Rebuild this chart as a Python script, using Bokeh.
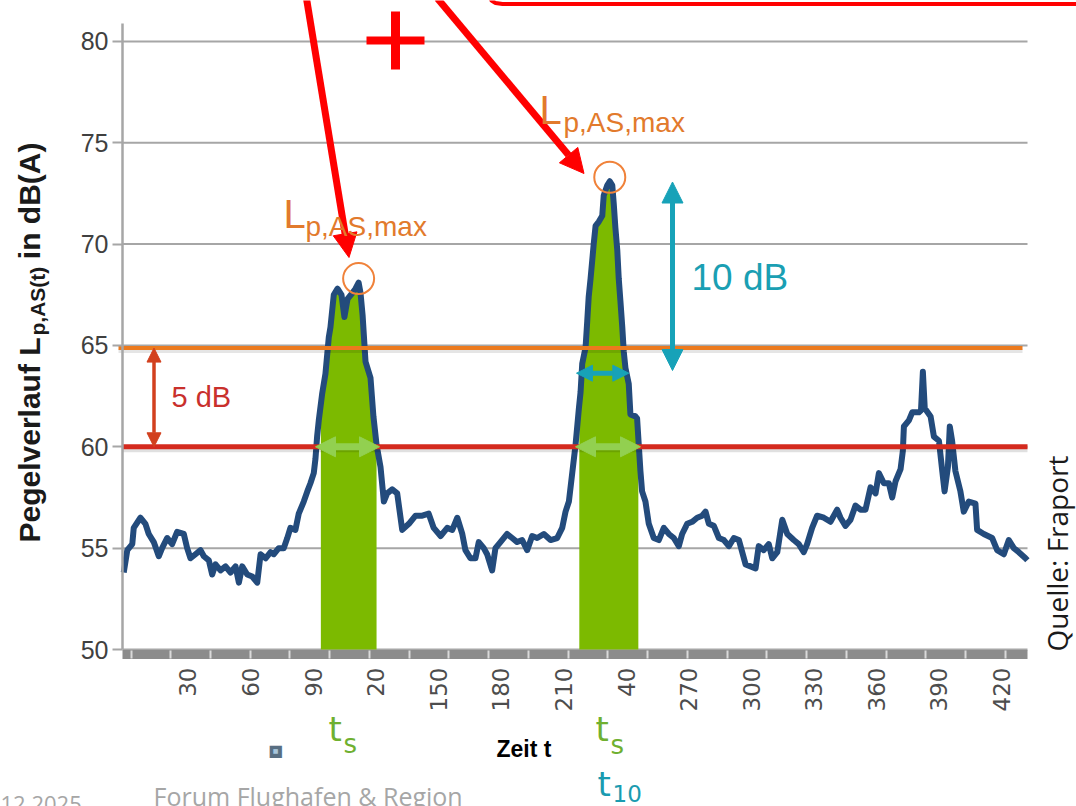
import numpy as np
from math import pi
from bokeh.plotting import figure
from bokeh.models import Range1d, FixedTicker, Label, Arrow, NormalHead
from bokeh.embed import file_html
from bokeh.resources import INLINE

# ---------------- data ----------------
t_sec = [
    -0.8, 0.9, 3.3, 4.0, 7.2, 9.6, 11.2, 13.6, 16.0, 17.6,
    20.0, 22.4, 24.8, 28.0, 29.6, 31.2, 33.6, 36.0, 37.6, 40.0,
    41.6, 43.2, 45.6, 48.0, 50.4, 52.8, 54.4, 56.0, 58.4, 60.8,
    63.2, 64.8, 67.2, 69.6, 71.1, 73.5, 75.9, 77.6, 79.1, 81.5,
    83.1, 85.5, 87.2, 88.7, 90.3, 91.1, 91.9, 92.7, 94.3, 95.9,
    97.5, 98.3, 99.9, 101.7, 103.6, 105.0, 106.5, 108.9, 110.3, 111.8,
    112.7, 113.7, 115.1, 117.5, 118.9, 120.4, 122.3, 123.9, 125.5, 127.9,
    130.3, 132.7, 135.9, 139.1, 142.3, 145.4, 147.8, 151.1, 154.3, 156.7,
    159.1, 161.5, 163.0, 165.4, 167.8, 169.4, 171.8, 173.4, 175.8, 177.4,
    179.8, 183.0, 185.4, 187.8, 190.2, 192.6, 195.0, 197.4, 200.6, 203.8,
    207.0, 209.4, 211.0, 212.6, 214.2, 215.8, 217.4, 218.2, 219.0, 220.6,
    221.4, 222.1, 223.0, 223.8, 224.5, 225.4, 226.9, 228.6, 229.3, 231.0,
    232.2, 233.4, 234.1, 234.9, 235.8, 236.5, 237.3, 238.2, 238.9, 239.7,
    241.3, 242.1, 244.5, 245.3, 246.1, 246.9, 247.7, 249.3, 250.9, 253.3,
    255.7, 258.1, 260.5, 262.9, 265.3, 266.9, 269.3, 271.7, 274.1, 276.5,
    278.1, 279.7, 282.1, 284.5, 286.9, 289.3, 291.7, 294.1, 297.3, 299.7,
    302.1, 303.6, 306.0, 308.4, 310.1, 312.5, 314.9, 317.3, 320.4, 322.8,
    325.2, 326.8, 329.2, 331.6, 334.8, 338.0, 341.2, 342.8, 345.2, 347.6,
    350.0, 352.4, 354.8, 357.2, 359.6, 361.2, 363.6, 366.0, 367.6, 369.2,
    371.6, 372.7, 373.2, 375.6, 377.2, 380.4, 381.4, 382.3, 383.2, 386.0,
    387.6, 390.0, 391.6, 392.7, 394.3, 395.2, 396.3, 397.9, 400.3, 401.9,
    404.3, 407.5, 408.3, 411.5, 415.5, 417.9, 421.1, 423.5, 425.9, 428.3,
    431.5, 432.4,
]
level_db = [
    53.8, 54.9, 55.2, 56.0, 56.5, 56.2, 55.7, 55.3, 54.6, 55.0,
    55.5, 55.2, 55.8, 55.7, 55.0, 54.5, 54.7, 54.9, 54.6, 54.4,
    53.7, 54.2, 53.9, 54.1, 53.8, 54.1, 53.3, 54.1, 53.7, 53.6,
    53.3, 54.7, 54.5, 54.8, 54.7, 55.0, 55.0, 55.5, 56.0, 55.9,
    56.7, 57.3, 57.8, 58.2, 58.7, 59.4, 60.5, 61.3, 62.6, 63.6,
    65.4, 65.9, 67.5, 67.8, 67.5, 66.4, 67.3, 67.6, 67.8, 68.1,
    67.6, 66.5, 64.2, 63.4, 61.5, 60.1, 59.0, 57.3, 57.7, 57.9,
    57.7, 55.9, 56.2, 56.6, 56.6, 56.7, 56.0, 55.6, 56.0, 55.9,
    56.5, 55.7, 54.9, 54.5, 54.5, 55.3, 55.0, 54.7, 53.9, 55.0,
    55.3, 55.7, 55.5, 55.3, 55.4, 54.9, 55.6, 55.5, 55.7, 55.4,
    55.5, 56.0, 56.8, 57.3, 58.7, 60.1, 61.9, 62.7, 64.1, 64.9,
    66.2, 67.4, 68.3, 69.2, 70.0, 70.9, 71.1, 71.4, 72.4, 72.9,
    73.1, 72.9, 72.0, 70.8, 69.7, 68.3, 67.2, 65.9, 64.7, 63.9,
    63.1, 61.6, 61.5, 61.4, 60.1, 58.8, 57.8, 57.3, 56.2, 55.5,
    55.4, 56.0, 55.7, 55.5, 55.1, 55.7, 56.2, 56.3, 56.5, 56.6,
    56.8, 56.2, 56.1, 55.5, 55.4, 55.1, 55.5, 55.4, 54.2, 54.1,
    54.0, 55.1, 54.9, 55.2, 54.5, 54.8, 56.4, 55.7, 55.4, 55.2,
    54.8, 55.2, 56.0, 56.6, 56.5, 56.3, 56.9, 56.5, 56.1, 56.4,
    57.1, 56.9, 56.9, 58.0, 57.7, 58.7, 58.2, 58.2, 57.5, 58.3,
    58.9, 59.8, 61.0, 61.3, 61.7, 61.7, 61.8, 63.7, 61.9, 61.5,
    60.5, 60.3, 58.8, 57.8, 59.0, 61.0, 60.3, 58.8, 57.8, 56.8,
    57.3, 57.2, 55.9, 55.7, 55.5, 54.9, 54.7, 55.4, 55.0, 54.8,
    54.5, 54.4,
]
assert len(t_sec) == len(level_db)

x_tick_values = [30, 60, 90, 120, 150, 180, 210, 240, 270, 300, 330, 360, 390, 420]
x_tick_labels = ["30", "60", "90", "20", "150", "180", "210", "40", "270", "300",
                 "330", "360", "390", "420"]
x_minor_ticks = [2.7, 21.8, 40.8, 59.9, 78.9, 98.0, 117.0, 136.1, 155.1, 174.2, 193.2,
                 212.3, 231.3, 250.4, 269.4, 288.5, 307.5, 326.6, 345.6, 364.7,
                 383.7, 402.8, 421.8]
y_tick_values = [50, 55, 60, 65, 70, 75, 80]

ts_start = [93.7, 217.6]      # begin of the t_s windows (s)
ts_end = [120.4, 245.9]       # end of the t_s windows (s)
threshold_red = 60.0          # dB(A)
threshold_orange = 64.87      # dB(A)

# ---------------- layout helpers (canvas pixel -> data) ----------------
PX0, PXS = 124.9, 2.086
PY0, PYS = 649.0, 20.27
W, H = 1076, 806


def tx(px):
    return (px - PX0) / PXS


def dy(py):
    return 50 + (PY0 - py) / PYS


p = figure(width=W, height=H,
           x_range=Range1d(tx(0), tx(W)), y_range=Range1d(dy(H), dy(0)),
           output_backend="svg", toolbar_location=None,
           min_border_left=0, min_border_right=0, min_border_top=0, min_border_bottom=0)
p.outline_line_color = None
p.background_fill_color = "white"
p.border_fill_color = "white"
p.xgrid.visible = False
p.ygrid.visible = False

# axes (placed at fixed data locations inside the frame)
xa = p.xaxis[0]
xa.fixed_location = dy(654)
xa.bounds = (tx(122), tx(1027))
xa.ticker = FixedTicker(ticks=x_tick_values, minor_ticks=x_minor_ticks)
xa.major_label_overrides = {v: s for v, s in zip(x_tick_values, x_tick_labels)}
xa.major_label_orientation = pi / 2
xa.axis_line_width = 9
xa.axis_line_color = "#8c8c8c"
xa.major_tick_line_color = None
xa.major_tick_in = 0
xa.major_tick_out = 0
xa.minor_tick_in = 4
xa.minor_tick_out = 4
xa.minor_tick_line_color = "#dadada"
xa.minor_tick_line_width = 2
xa.major_label_standoff = 9
xa.major_label_text_font = "DejaVu Sans"
xa.major_label_text_font_size = "23px"
xa.major_label_text_color = "#4d4d4d"

ya = p.yaxis[0]
ya.fixed_location = tx(122)
ya.bounds = (50, dy(22.5))
ya.ticker = FixedTicker(ticks=y_tick_values, minor_ticks=[])
ya.axis_line_color = "#a6a6a6"
ya.axis_line_width = 2.5
ya.major_tick_in = 0
ya.major_tick_out = 10
ya.major_tick_line_color = "#a6a6a6"
ya.major_tick_line_width = 2
ya.minor_tick_line_color = None
ya.major_label_standoff = 4
ya.major_label_text_font = "Liberation Sans"
ya.major_label_text_font_size = "25px"
ya.major_label_text_color = "#404040"

# horizontal grid lines between the axis and the right end of the plot
p.segment(x0=[tx(122)] * len(y_tick_values), y0=y_tick_values,
          x1=[tx(1027)] * len(y_tick_values), y1=y_tick_values,
          line_color="#a6a6a6", line_width=2)

# green t_s areas under the curve
T = np.array(t_sec)
L = np.array(level_db)
for a, b in zip(ts_start, ts_end):
    inner = T[(T > a) & (T < b)]
    xs = np.concatenate([[a], inner, [b]])
    ys = np.interp(xs, T, L)
    p.varea(x=xs, y1=np.full(len(xs), 50.0), y2=ys, fill_color="#7cba00")

# level curve
p.line(t_sec, level_db, line_color="#234b7c", line_width=6, line_join="round")

# threshold lines with soft shadow
sh = 3 / PYS
p.segment(x0=[tx(122)], y0=[threshold_red - sh], x1=[tx(1027)], y1=[threshold_red - sh],
          line_color="black", line_alpha=0.12, line_width=5)
p.segment(x0=[tx(118)], y0=[threshold_orange - sh], x1=[tx(1022)], y1=[threshold_orange - sh],
          line_color="black", line_alpha=0.10, line_width=4)
p.segment(x0=[tx(122)], y0=[threshold_red], x1=[tx(1027)], y1=[threshold_red],
          line_color="#d42a1e", line_width=5)
p.segment(x0=[tx(118)], y0=[threshold_orange], x1=[tx(1022)], y1=[threshold_orange],
          line_color="#ec7a1e", line_width=4)


def arrow(x0, y0, x1, y1, color, width, size, both=True):
    end = NormalHead(size=size, fill_color=color, line_color=color, line_width=1)
    start = NormalHead(size=size, fill_color=color, line_color=color, line_width=1) if both else None
    p.add_layout(Arrow(x_start=x0, y_start=y0, x_end=x1, y_end=y1, start=start, end=end,
                       line_color=color, line_width=width))


# light green t_s arrows on the red line
arrow(tx(315), threshold_red, tx(379), threshold_red, "#92d050", 7, 20)
arrow(tx(575), threshold_red, tx(640), threshold_red, "#92d050", 7, 20)
# teal t_10 arrow and 10 dB arrow
arrow(tx(576), dy(372.7), tx(628.3), dy(372.7), "#17a2b8", 5, 16)
arrow(tx(672), dy(370), tx(672), dy(181.5), "#17a2b8", 5, 21)
# 5 dB arrow
arrow(tx(153.5), threshold_orange, tx(153.5), threshold_red, "#d2401e", 3.5, 14)
# red pointer arrows
arrow(tx(306), dy(-2), tx(348.5), dy(257), "#ff0000", 7, 24, both=False)
arrow(tx(437), dy(-2), tx(583.5), dy(173), "#ff0000", 7, 24, both=False)

# red plus sign
p.segment(x0=[tx(366)], y0=[dy(40)], x1=[tx(424)], y1=[dy(40)], line_color="#ff0000",
          line_width=8, line_cap="butt")
p.segment(x0=[tx(395)], y0=[dy(11)], x1=[tx(395)], y1=[dy(69)], line_color="#ff0000",
          line_width=9, line_cap="butt")
# bottom edge of the red call-out box (top right)
p.line([tx(489), tx(491), tx(495), tx(502), tx(1080)],
       [dy(-4), dy(0), dy(2.5), dy(3.5), dy(3.5)], line_color="#ff0000", line_width=4)

# circles around the maxima
cx, cy = [], []
for a, b in zip(ts_start, ts_end):
    m = (T >= a) & (T <= b)
    i = np.argmax(L[m])
    cx.append(T[m][i])
    cy.append(L[m][i] + 0.2)
p.scatter(cx, cy, marker="circle", size=31, fill_color=None, line_color="#f0823a", line_width=2)

# font-box middle above the alphabetic baseline, as a fraction of the font size
MID = {"Liberation Sans": 0.3465, "DejaVu Sans": 0.346, "Open Sans": 0.388}


def text(s, px, py, size, color, font="Liberation Sans", style="normal", align="left",
         vertical=False):
    """px/py give the left (or right) end of the text and its alphabetic baseline."""
    off = MID[font] * size
    if vertical:
        ax, ay, ang = px - off, py, pi / 2
    else:
        ax, ay, ang = px, py - off, 0.0
    p.add_layout(Label(x=tx(ax), y=dy(ay), text=s, text_font_size=f"{size}px",
                       text_color=color, text_font=font, text_font_style=style,
                       text_align=align, text_baseline="middle", angle=ang))


# y axis title
text("Pegelverlauf L", 39, 542, 30, "#1a1a1a", style="bold", vertical=True)
text("p,AS(t)", 44, 335, 21, "#1a1a1a", style="bold", vertical=True)
text("in dB(A)", 39, 142, 30, "#1a1a1a", style="bold", align="right", vertical=True)

# source
text("Quelle: Fraport", 1067, 651, 28, "#1a1a1a", font="Open Sans", vertical=True)

# L_p,AS,max labels
orange = "#e27a2c"
text("L", 283, 227, 40, orange)
text("p,AS,max", 305, 236, 28, orange)
text("L", 539, 123, 40, orange)
text("p,AS,max", 563, 132, 28, orange)

text("10 dB", 691, 290, 37, "#1a9fb3")
text("5 dB", 171, 407, 29, "#c9302c")

# t_s / t_10 markers under the axis
green = "#6fb030"
text("t", 328, 740, 34, green, font="DejaVu Sans")
text("s", 343, 752, 26, green, font="DejaVu Sans")
text("t", 595, 740, 34, green, font="DejaVu Sans")
text("s", 610, 753, 26, green, font="DejaVu Sans")
text("t", 597, 795, 34, "#1a9bb0", font="DejaVu Sans")
text("10", 612, 801, 23, "#1a9bb0", font="DejaVu Sans")

text("Zeit t", 496, 756, 23, "#000000", style="bold")

# small square symbol
p.add_layout(Label(x=tx(275), y=dy(750), text="\u25A0", text_font_size="16px",
                   text_color="#586e82", text_font="DejaVu Sans",
                   text_align="center", text_baseline="middle"))
p.add_layout(Label(x=tx(275), y=dy(750), text="\u25A0", text_font_size="6px",
                   text_color="#a9c6dc", text_font="DejaVu Sans",
                   text_align="center", text_baseline="middle"))

# footer
text("Forum Flughafen & Region", 153, 805, 25, "#a6a6a6", font="Open Sans")
text("12.2025", 0, 812, 22, "#a6a6a6", font="Open Sans")

open("out.html", "w").write(file_html(p, INLINE))
